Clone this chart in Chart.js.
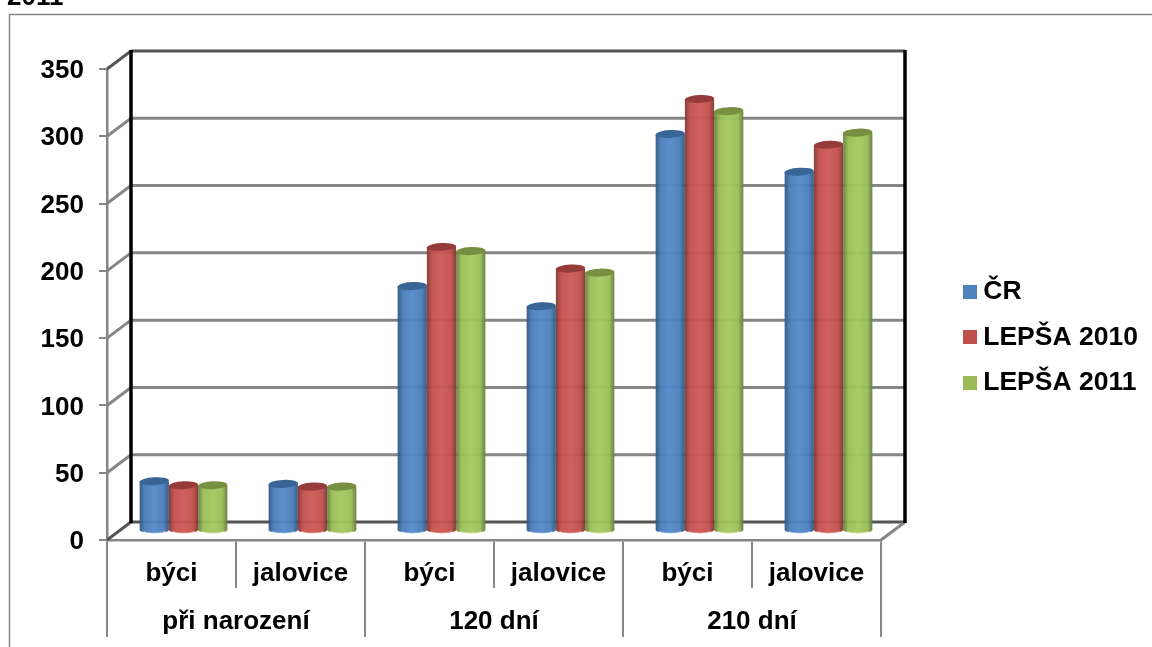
<!DOCTYPE html>
<html lang="cs">
<head>
<meta charset="utf-8">
<title>Hmotnost telat</title>
<script src="https://cdn.jsdelivr.net/npm/chart.js@4"></script>
<style>
html,body{margin:0;padding:0;background:#fff;overflow:hidden}
canvas{display:block}
</style>
</head>
<body>
<canvas id="chart" width="1152" height="647"></canvas>
<script>
// Kategorie a hodnoty grafu
const categories = ['býci', 'jalovice', 'býci', 'jalovice', 'býci', 'jalovice'];
const groups = ['při narození', '120 dní', '210 dní'];
const seriesNames = ['ČR', 'LEPŠA 2010', 'LEPŠA 2011'];
const cr = [37, 35, 182, 167, 295, 267];
const lepsa2010 = [34, 33, 211, 195, 321, 287];
const lepsa2011 = [34, 33, 208, 192, 312, 296];
const yTicks = [0, 50, 100, 150, 200, 250, 300, 350];

// Barvy válců: tmavý okraj, základ, světlý střed, víko, spodní odlesk
const palette = [
  {edge: '#2f5680', base: '#4a7db9', light: '#5389ca', cap: '#386596', glow: '#8fb8ea', swatch: '#4f81bd'},
  {edge: '#813533', base: '#c24f4c', light: '#ce5856', cap: '#953c3a', glow: '#eb9c9a', swatch: '#c0504d'},
  {edge: '#647d38', base: '#9bbd58', light: '#a6c85f', cap: '#778f41', glow: '#c9e38f', swatch: '#9bbb59'}
];

const FONT = {family: '"Liberation Sans", Arial, sans-serif', weight: 'bold', size: 26};
const LEGEND_FONT = {family: '"Liberation Sans", Arial, sans-serif', weight: 'bold', size: 26.5};
const GRID = '#868686';
const DEPTH_X = 24, DEPTH_Y = -18;   // posun zadní stěny proti přední rovině
const CAP_RY = 4, BASE_RY = 3;

function swatch(color) {
  const c = document.createElement('canvas');
  c.width = c.height = 14;
  const g = c.getContext('2d');
  g.fillStyle = color;
  g.fillRect(0, 0, 14, 14);
  return c;
}
const swatches = palette.map(p => swatch(p.swatch));

function line(ctx, x1, y1, x2, y2, color, width) {
  ctx.strokeStyle = color;
  ctx.lineWidth = width;
  ctx.beginPath();
  ctx.moveTo(x1, y1);
  ctx.lineTo(x2, y2);
  ctx.stroke();
}

function drawWalls(chart) {
  const {ctx, chartArea: a, scales: {y}} = chart;
  const bl = a.left + DEPTH_X, br = a.right + DEPTH_X;
  ctx.save();
  ctx.lineCap = 'butt';
  y.ticks.forEach(t => {
    const py = y.getPixelForValue(t.value);
    const edge = t.value === 0 || t.value === 350;
    const col = edge ? '#555555' : GRID;
    line(ctx, a.left, py, bl, py + DEPTH_Y, col, 3);
    line(ctx, bl, py + DEPTH_Y, br, py + DEPTH_Y, col, 3);
  });
  line(ctx, a.right, a.bottom, br, a.bottom + DEPTH_Y, GRID, 3);
  const top = y.getPixelForValue(350) + DEPTH_Y, bottom = y.getPixelForValue(0) + DEPTH_Y;
  line(ctx, bl, top - 1, bl, bottom + 1, '#000', 3.5);
  line(ctx, br, top - 1, br, bottom + 1, '#000', 3.5);
  ctx.restore();
}

function drawCylinder(ctx, bar, colors) {
  const dx = DEPTH_X / 2, dy = DEPTH_Y / 2;
  const left = bar.x - bar.width / 2 + dx, right = bar.x + bar.width / 2 + dx;
  const cx = bar.x + dx, rx = bar.width / 2;
  const topY = bar.y + dy, baseY = bar.base + dy;
  const g = ctx.createLinearGradient(left, 0, right, 0);
  g.addColorStop(0, colors.edge);
  g.addColorStop(0.18, colors.base);
  g.addColorStop(0.5, colors.light);
  g.addColorStop(0.82, colors.base);
  g.addColorStop(1, colors.edge);
  ctx.save();
  ctx.globalAlpha = 0.95;
  ctx.fillStyle = g;
  ctx.beginPath();
  ctx.moveTo(left, topY);
  ctx.lineTo(left, baseY);
  ctx.ellipse(cx, baseY, rx, BASE_RY, 0, Math.PI, 0, true);
  ctx.lineTo(right, topY);
  ctx.closePath();
  ctx.fill();
  ctx.globalAlpha = 0.7;
  ctx.strokeStyle = colors.glow;
  ctx.lineWidth = 1;
  ctx.beginPath();
  ctx.ellipse(cx, baseY, rx - 3, BASE_RY, 0, 0.35, Math.PI - 0.35);
  ctx.stroke();
  ctx.globalAlpha = 1;
  ctx.fillStyle = colors.cap;
  ctx.beginPath();
  ctx.ellipse(cx, topY, rx, CAP_RY, -0.05, 0, Math.PI * 2);
  ctx.fill();
  ctx.restore();
}

const scenePlugin = {
  id: 'scene',
  beforeDraw(chart) {
    const {ctx} = chart;
    ctx.save();
    ctx.fillStyle = '#fff';
    ctx.fillRect(0, 0, chart.width, chart.height);
    // rámeček grafu a zbytek nadpisu nad ním
    ctx.strokeStyle = GRID;
    ctx.lineWidth = 1.5;
    ctx.strokeRect(9.5, 14.5, chart.width + 20, chart.height + 20);
    ctx.fillStyle = '#000';
    ctx.font = 'bold 26px "Liberation Sans", Arial, sans-serif';
    ctx.textBaseline = 'alphabetic';
    ctx.fillText('2011', 7, 5);
    ctx.restore();
  },
  afterLayout(chart) {
    const lg = chart.legend;
    lg.left = 950;
    lg.right = 1152;
    lg.top = 259.5;
    lg.bottom = 600;
  },
  beforeDatasetsDraw(chart) {
    drawWalls(chart);
    chart.data.datasets.forEach((d, i) => {
      chart.getDatasetMeta(i).data.forEach(bar => drawCylinder(chart.ctx, bar, palette[i]));
    });
  },
  // válce jsou už hotové, běžné obdélníky se nekreslí
  beforeDatasetDraw() { return false; }
};

new Chart(document.getElementById('chart'), {
  type: 'bar',
  data: {
    labels: categories,
    datasets: [
      {label: seriesNames[0], data: cr, backgroundColor: palette[0].swatch},
      {label: seriesNames[1], data: lepsa2010, backgroundColor: palette[1].swatch},
      {label: seriesNames[2], data: lepsa2011, backgroundColor: palette[2].swatch}
    ]
  },
  plugins: [scenePlugin],
  options: {
    responsive: false,
    animation: false,
    datasets: {bar: {categoryPercentage: 0.68, barPercentage: 1}},
    layout: {padding: {left: 0, top: 69, right: 271, bottom: 10}},
    scales: {
      x: {
        type: 'category',
        position: 'bottom',
        offset: true,
        weight: 0,
        afterFit(s) { s.height = 48; },
        border: {color: GRID, width: 2.5},
        grid: {offset: true, drawOnChartArea: false, color: GRID, lineWidth: 2, tickLength: 48},
        ticks: {color: '#000', font: FONT, padding: -30, autoSkip: false, maxRotation: 0}
      },
      xGroup: {
        type: 'category',
        position: 'bottom',
        labels: groups,
        offset: true,
        weight: 1,
        afterFit(s) { s.height = 49; },
        border: {display: false},
        grid: {offset: true, drawOnChartArea: false, color: GRID, lineWidth: 2, tickLength: 49},
        ticks: {color: '#000', font: FONT, padding: -31, autoSkip: false, maxRotation: 0}
      },
      y: {
        type: 'linear',
        min: 0,
        max: 350,
        afterFit(s) { s.width = 107; },
        afterBuildTicks(s) { s.ticks = yTicks.map(value => ({value})); },
        border: {color: GRID, width: 2.5},
        grid: {drawOnChartArea: false, color: GRID, lineWidth: 2, tickLength: 8},
        ticks: {color: '#000', font: FONT, padding: 15, labelOffset: 2}
      }
    },
    plugins: {
      title: {display: false},
      tooltip: {enabled: false},
      legend: {
        position: 'chartArea',
        align: 'start',
        labels: {
          font: LEGEND_FONT,
          color: '#000',
          padding: 19,
          usePointStyle: true,
          pointStyleWidth: 1,
          generateLabels: chart => chart.data.datasets.map((d, i) => ({
            text: d.label,
            pointStyle: swatches[i],
            datasetIndex: i,
            fontColor: '#000',
            lineWidth: 0,
            hidden: false
          }))
        }
      }
    }
  }
});
</script>
</body>
</html>
